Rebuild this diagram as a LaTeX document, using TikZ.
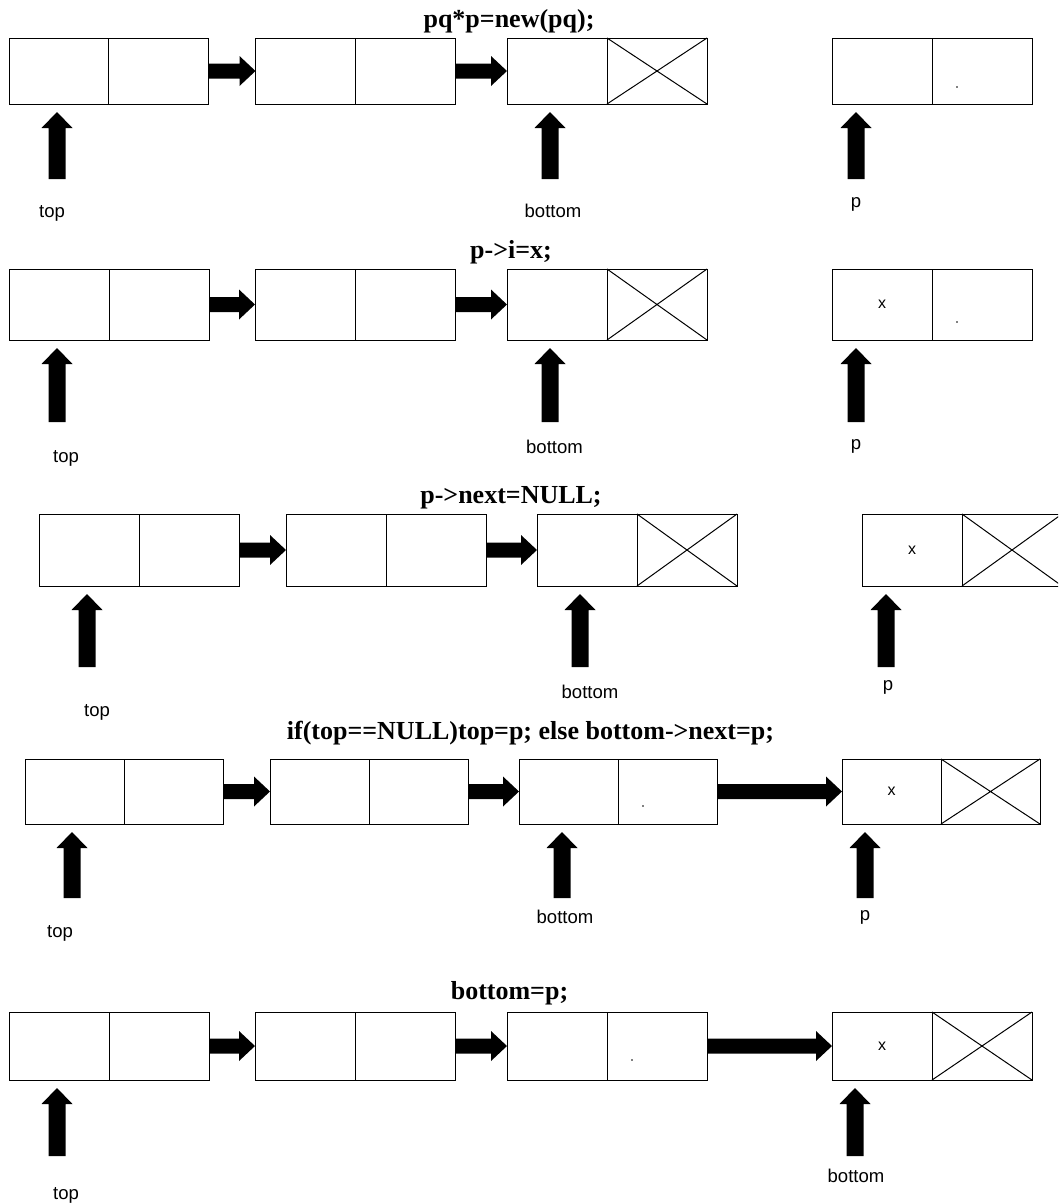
\documentclass[tikz,border=0pt]{standalone}
\usepackage{fontspec}
\setmainfont{Liberation Serif}
\setsansfont{Liberation Sans}
\usetikzlibrary{calc}

% record of two cells: name, x0, ytop, ybottom, left width, right width
\newcommand\rec[6]{%
  \node[cellst, minimum width=#5*0.75pt, minimum height=(#4-#3)*0.75pt, anchor=north west] (#1l) at (#2,#3) {};
  \node[cellst, minimum width=#6*0.75pt, minimum height=(#4-#3)*0.75pt, anchor=north west] (#1r) at (#1l.north east) {};
}
% crossed (NULL) cell
\newcommand\nullcell[1]{%
  \draw[crossst] (#1.north west) -- (#1.south east) (#1.south west) -- (#1.north east);
}
% fat horizontal arrow from node #1 (east) to node #2 (west)
\newcommand\harr[2]{%
  \fill[black] ($(#1.east)+(0,-7.5)$) -- ($(#2.west)+(-16,-7.5)$) -- ($(#2.west)+(-16,-15)$) -- (#2.west)
    -- ($(#2.west)+(-16,15)$) -- ($(#2.west)+(-16,7.5)$) -- ($(#1.east)+(0,7.5)$) -- cycle;
}
% fat up arrow with tip at coordinate #1 and total length #2
\newcommand\uarr[2]{%
  \fill[black] (#1) -- ++(15.5,16) -- ++(-7,0) -- ++(0,{#2-16}) -- ++(-17,0) -- ++(0,{16-#2}) -- ++(-7,0) -- cycle;
}

\begin{document}
\begin{tikzpicture}[x=0.75pt,y=-0.75pt,
  cellst/.style={draw, line width=0.75pt, rectangle, inner sep=0pt, outer sep=0pt},
  crossst/.style={line width=0.75pt},
  title/.style={font=\bfseries\fontsize{19.5}{20}\selectfont, anchor=base, inner sep=0pt},
  lbl/.style={font=\sffamily\fontsize{13.9}{14}\selectfont, anchor=base, inner sep=0pt},
  xst/.style={font=\sffamily\fontsize{12}{12}\selectfont, inner sep=0pt},
]
\useasboundingbox (0,0) rectangle (1058,1204);
\clip (0,0) rectangle (1058,1204);

% ---------------- Row 1 ----------------
\node[title] (t1) at (509,27) {pq*p=new(pq);};
\rec{a1}{9}{38}{104}{99.5}{100}
\rec{a2}{255.5}{38}{104}{100}{100}
\rec{a3}{507}{38}{104}{100}{100}
\rec{a4}{832}{38}{104}{100}{100}
\nullcell{a3r}
\harr{a1r}{a2l}
\harr{a2r}{a3l}
\fill (957,87) circle[radius=0.7pt];
\coordinate (a1p) at ($(a1l.south west)+(48,8)$);
\coordinate (a3p) at ($(a3l.south west)+(43,8)$);
\coordinate (a4p) at ($(a4l.south west)+(24,8)$);
\uarr{a1p}{67}
\uarr{a3p}{67}
\uarr{a4p}{67}
\node[lbl] (a1lab) at (52,217) {top};
\node[lbl] (a3lab) at (553,217) {bottom};
\node[lbl] (a4lab) at (856,207) {p};

% ---------------- Row 2 ----------------
\node[title] (t2) at (511,258.5) {p->i=x;};
\rec{b1}{9}{269}{340}{100}{100}
\rec{b2}{255}{269}{340}{100}{100}
\rec{b3}{507}{269}{340}{100}{100}
\rec{b4}{832}{269}{340}{100}{100}
\nullcell{b3r}
\node[xst] (b4x) at (b4l) {x};
\harr{b1r}{b2l}
\harr{b2r}{b3l}
\fill (957,322) circle[radius=0.7pt];
\coordinate (b1p) at ($(b1l.south west)+(48,8)$);
\coordinate (b3p) at ($(b3l.south west)+(43,8)$);
\coordinate (b4p) at ($(b4l.south west)+(24,8)$);
\uarr{b1p}{74}
\uarr{b3p}{74}
\uarr{b4p}{74}
\node[lbl] (b1lab) at (66,462.5) {top};
\node[lbl] (b3lab) at (554.5,453) {bottom};
\node[lbl] (b4lab) at (856,449.6) {p};

% ---------------- Row 3 ----------------
\node[title] (t3) at (511,503) {p->next=NULL;};
\rec{c1}{39}{514}{586}{100}{100}
\rec{c2}{286}{514}{586}{100}{100}
\rec{c3}{537}{514}{586}{100}{100}
\rec{c4}{862}{514}{586}{100}{100}
\nullcell{c3r}
\nullcell{c4r}
\node[xst] (c4x) at (c4l) {x};
\harr{c1r}{c2l}
\harr{c2r}{c3l}
\coordinate (c1p) at ($(c1l.south west)+(48,8)$);
\coordinate (c3p) at ($(c3l.south west)+(43,8)$);
\coordinate (c4p) at ($(c4l.south west)+(24,8)$);
\uarr{c1p}{73}
\uarr{c3p}{73}
\uarr{c4p}{73}
\node[lbl] (c1lab) at (97,716) {top};
\node[lbl] (c3lab) at (590,698.5) {bottom};
\node[lbl] (c4lab) at (888,690) {p};

% ---------------- Row 4 ----------------
\node[title] (t4) at (530.5,739) {if(top==NULL)top=p; else bottom->next=p;};
\rec{d1}{25}{759}{824}{99}{99}
\rec{d2}{270}{759}{824}{99}{99}
\rec{d3}{519}{759}{824}{99}{99}
\rec{d4}{842}{759}{824}{99}{99}
\nullcell{d4r}
\node[xst] (d4x) at (d4l) {x};
\harr{d1r}{d2l}
\harr{d2r}{d3l}
\harr{d3r}{d4l}
\fill (643,806) circle[radius=0.7pt];
\coordinate (d1p) at ($(d1l.south west)+(47,8)$);
\coordinate (d3p) at ($(d3l.south west)+(43,8)$);
\coordinate (d4p) at ($(d4l.south west)+(23,8)$);
\uarr{d1p}{66}
\uarr{d3p}{66}
\uarr{d4p}{66}
\node[lbl] (d1lab) at (60,937) {top};
\node[lbl] (d3lab) at (565,923) {bottom};
\node[lbl] (d4lab) at (865,920) {p};

% ---------------- Row 5 ----------------
\node[title] (t5) at (509.5,999.5) {bottom=p;};
\rec{e1}{9}{1012}{1080}{100}{100}
\rec{e2}{255}{1012}{1080}{100}{100}
\rec{e3}{507}{1012}{1080}{100}{100}
\rec{e4}{832}{1012}{1080}{100}{100}
\nullcell{e4r}
\node[xst] (e4x) at (e4l) {x};
\harr{e1r}{e2l}
\harr{e2r}{e3l}
\harr{e3r}{e4l}
\fill (632,1060) circle[radius=0.7pt];
\coordinate (e1p) at ($(e1l.south west)+(48,8)$);
\coordinate (e4p) at ($(e4l.south west)+(23,8)$);
\uarr{e1p}{68}
\uarr{e4p}{68}
\node[lbl] (e1lab) at (66,1199) {top};
\node[lbl] (e4lab) at (856,1182) {bottom};
\end{tikzpicture}
\end{document}
